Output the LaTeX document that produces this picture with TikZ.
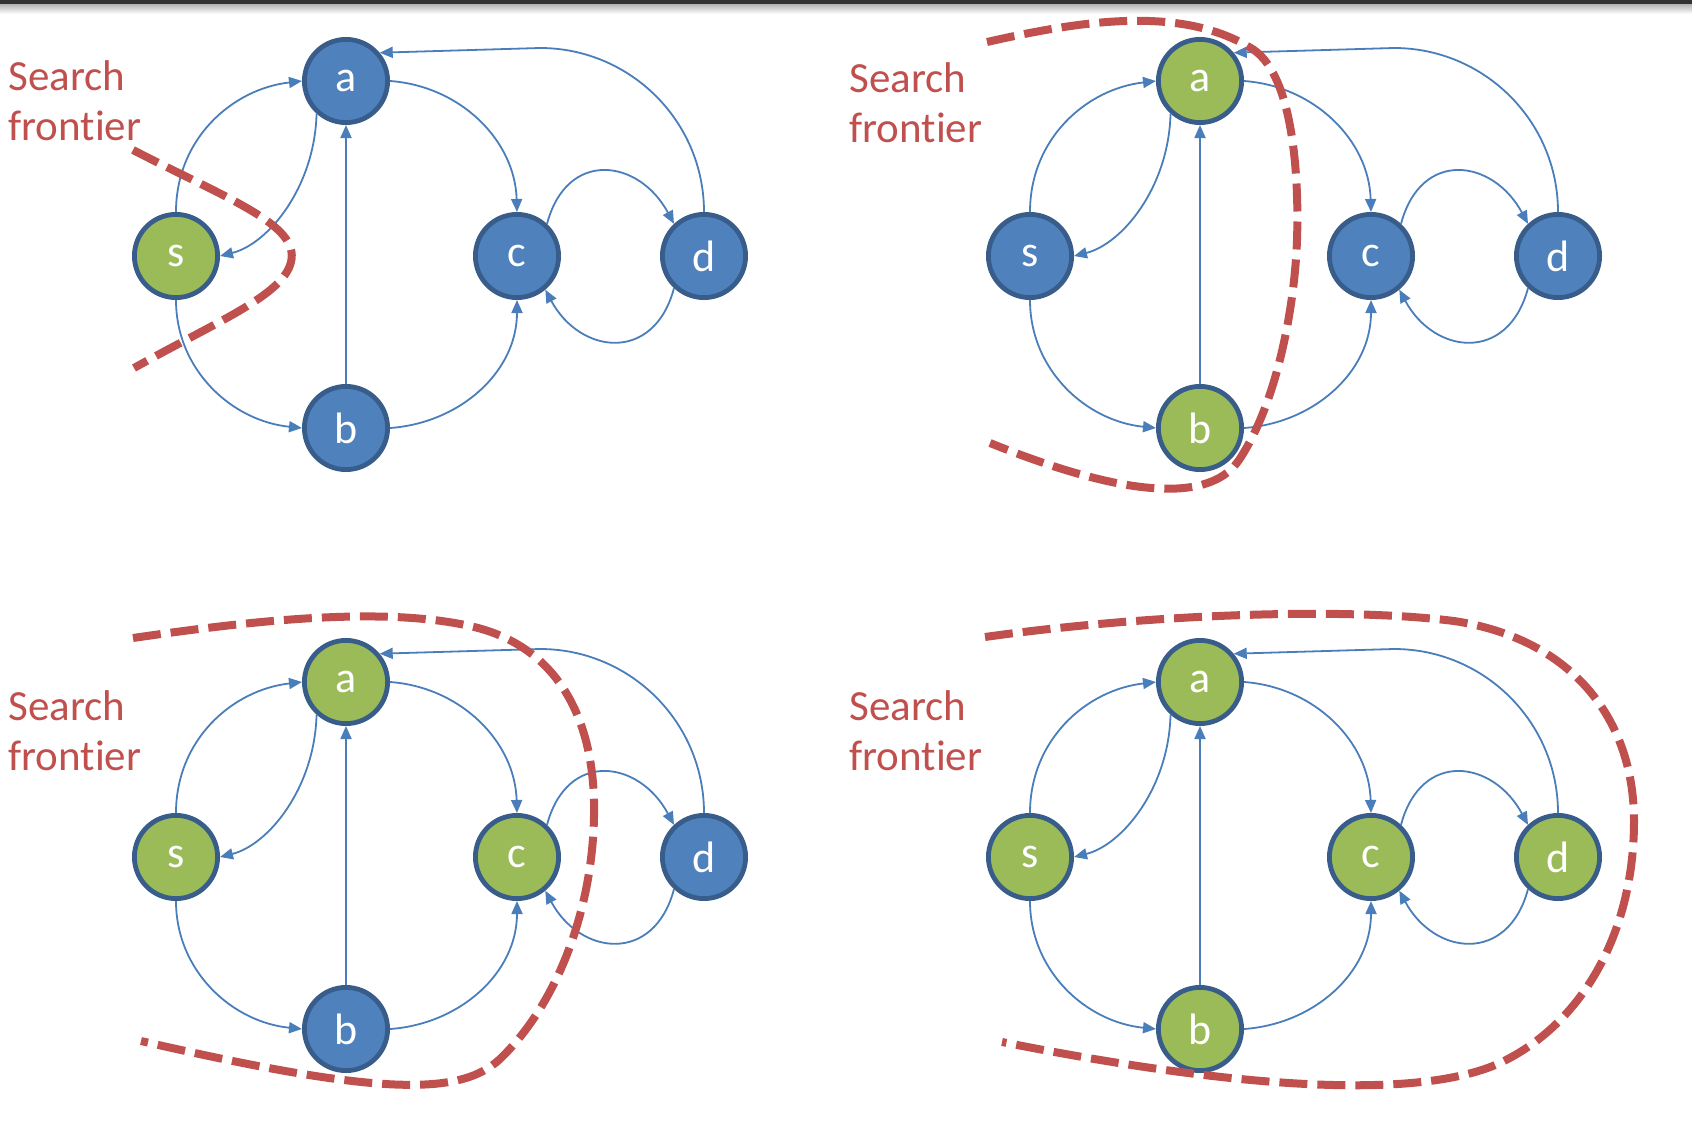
\documentclass[tikz,border=0pt]{standalone}
\usepackage{fontspec}
\setmainfont{Carlito}[Ligatures=NoCommon]
\usetikzlibrary{arrows.meta}
\definecolor{nodeblue}{HTML}{4F81BD}
\definecolor{rimblue}{HTML}{385D8A}
\definecolor{nodegreen}{HTML}{9BBB59}
\definecolor{linkblue}{HTML}{4A7EBB}
\definecolor{frontred}{HTML}{C0504D}
\tikzset{
	vtx/.style={circle, draw=rimblue, line width=2.4pt, minimum size=41.6pt, inner sep=0pt, text=white, font=\fontsize{22}{22}\selectfont},
	unseen/.style={vtx, fill=nodeblue},
	seen/.style={vtx, fill=nodegreen},
	link/.style={draw=linkblue, line width=0.9pt, -{Triangle[length=6.5pt,width=5.5pt]}},
	frontier/.style={draw=frontred, line width=4pt, dash pattern=on 14pt off 5pt},
	frontlabel/.style={anchor=base west, align=left, inner sep=0pt, text=frontred, font=\fontsize{21.5}{25}\selectfont}
}
\begin{document}
\begin{tikzpicture}[x=0.5pt, y=-0.5pt]
	\useasboundingbox (0,0) rectangle (1692,1140);
	\fill[black!80] (0,0) rectangle (1692,4);
	\shade[top color=black!30, bottom color=white] (0,4) rectangle (1692,14);

	% step 1
	\begin{scope}
		\node[frontlabel] (lab1) at (8,140) {Search\\frontier};
		\node[seen] (s1) at (176,256) {s};
		\node[unseen] (a1) at (346,81) {a};
		\node[unseen] (b1) at (346,428) {b};
		\node[unseen] (c1) at (517,256) {c};
		\node[unseen] (d1) at (704,256) {d};
		\draw[link] (s1.north) .. controls +(0,-73) and +(-70,8) .. (a1.west);
		\draw[link] (a1.228) .. controls +(-2,74) and +(48,-12) .. (s1.east);
		\draw[link] (s1.south) .. controls +(0,70) and +(-70,-7) .. (b1.west);
		\draw[link] (b1) -- (a1);
		\draw[link] (a1.east) .. controls +(70,5) and +(-2,-72) .. (c1.north);
		\draw[link] (b1.east) .. controls +(70,-5) and +(0,72) .. (c1.south);
		\draw[link] (c1.47) .. controls +(20,-75) and +(-35,-65) .. (d1.133);
		\draw[link] (d1.227) .. controls +(-20,75) and +(35,65) .. (c1.-50);
		\draw[link] (d1.north) .. controls +(0,-91) and +(90,0) .. ++(-164,-164) -- (a1.40);
		\draw[frontier] (133,150) .. controls (230,200) and (300,225) .. (291,262) .. controls (283,295) and (220,320) .. (134,368);
	\end{scope}

	% step 2
	\begin{scope}[shift={(854,0)}]
		\node[frontlabel] (lab2) at (-5,142) {Search\\frontier};
		\node[unseen] (s2) at (176,256) {s};
		\node[seen] (a2) at (346,81) {a};
		\node[seen] (b2) at (346,428) {b};
		\node[unseen] (c2) at (517,256) {c};
		\node[unseen] (d2) at (704,256) {d};
		\draw[link] (s2.north) .. controls +(0,-73) and +(-70,8) .. (a2.west);
		\draw[link] (a2.228) .. controls +(-2,74) and +(48,-12) .. (s2.east);
		\draw[link] (s2.south) .. controls +(0,70) and +(-70,-7) .. (b2.west);
		\draw[link] (b2) -- (a2);
		\draw[link] (a2.east) .. controls +(70,5) and +(-2,-72) .. (c2.north);
		\draw[link] (b2.east) .. controls +(70,-5) and +(0,72) .. (c2.south);
		\draw[link] (c2.47) .. controls +(20,-75) and +(-35,-65) .. (d2.133);
		\draw[link] (d2.227) .. controls +(-20,75) and +(35,65) .. (c2.-50);
		\draw[link] (d2.north) .. controls +(0,-91) and +(90,0) .. ++(-164,-164) -- (a2.40);
		\draw[frontier] (133,42) .. controls (230,20) and (330,5) .. (400,50) .. controls (440,78) and (445,180) .. (443,240) .. controls (441,300) and (425,400) .. (385,460) .. controls (360,497) and (290,505) .. (136,443);
	\end{scope}

	% step 3
	\begin{scope}[shift={(0,601)}]
		\node[frontlabel] (lab3) at (8,169) {Search\\frontier};
		\node[seen] (s3) at (176,256) {s};
		\node[seen] (a3) at (346,81) {a};
		\node[unseen] (b3) at (346,428) {b};
		\node[seen] (c3) at (517,256) {c};
		\node[unseen] (d3) at (704,256) {d};
		\draw[link] (s3.north) .. controls +(0,-73) and +(-70,8) .. (a3.west);
		\draw[link] (a3.228) .. controls +(-2,74) and +(48,-12) .. (s3.east);
		\draw[link] (s3.south) .. controls +(0,70) and +(-70,-7) .. (b3.west);
		\draw[link] (b3) -- (a3);
		\draw[link] (a3.east) .. controls +(70,5) and +(-2,-72) .. (c3.north);
		\draw[link] (b3.east) .. controls +(70,-5) and +(0,72) .. (c3.south);
		\draw[link] (c3.47) .. controls +(20,-75) and +(-35,-65) .. (d3.133);
		\draw[link] (d3.227) .. controls +(-20,75) and +(35,65) .. (c3.-50);
		\draw[link] (d3.north) .. controls +(0,-91) and +(90,0) .. ++(-164,-164) -- (a3.40);
		\draw[frontier] (133,37) .. controls (250,20) and (380,5) .. (470,25) .. controls (560,45) and (592,120) .. (594,200) .. controls (596,300) and (560,400) .. (500,458) .. controls (460,495) and (380,495) .. (141,440);
	\end{scope}

	% step 4
	\begin{scope}[shift={(854,601)}]
		\node[frontlabel] (lab4) at (-5,169) {Search\\frontier};
		\node[seen] (s4) at (176,256) {s};
		\node[seen] (a4) at (346,81) {a};
		\node[seen] (b4) at (346,428) {b};
		\node[seen] (c4) at (517,256) {c};
		\node[seen] (d4) at (704,256) {d};
		\draw[link] (s4.north) .. controls +(0,-73) and +(-70,8) .. (a4.west);
		\draw[link] (a4.228) .. controls +(-2,74) and +(48,-12) .. (s4.east);
		\draw[link] (s4.south) .. controls +(0,70) and +(-70,-7) .. (b4.west);
		\draw[link] (b4) -- (a4);
		\draw[link] (a4.east) .. controls +(70,5) and +(-2,-72) .. (c4.north);
		\draw[link] (b4.east) .. controls +(70,-5) and +(0,72) .. (c4.south);
		\draw[link] (c4.47) .. controls +(20,-75) and +(-35,-65) .. (d4.133);
		\draw[link] (d4.227) .. controls +(-20,75) and +(35,65) .. (c4.-50);
		\draw[link] (d4.north) .. controls +(0,-91) and +(90,0) .. ++(-164,-164) -- (a4.40);
		\draw[frontier] (131,36) .. controls (280,15) and (480,5) .. (600,20) .. controls (720,38) and (780,120) .. (780,220) .. controls (780,330) and (730,420) .. (650,460) .. controls (580,495) and (420,495) .. (148,441);
	\end{scope}
\end{tikzpicture}
\end{document}
